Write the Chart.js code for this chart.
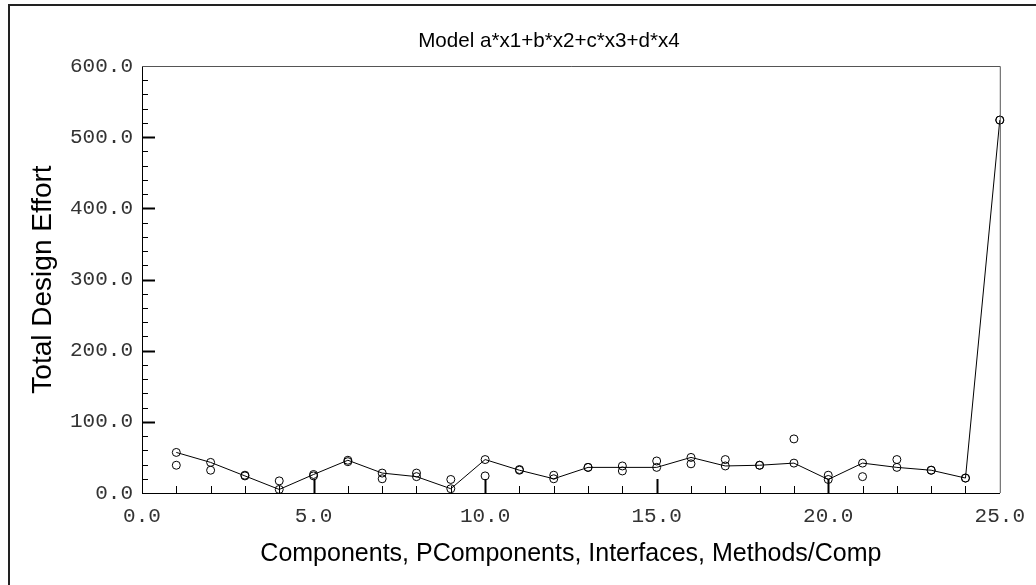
<!DOCTYPE html>
<html>
<head>
<meta charset="utf-8">
<script src="https://cdn.jsdelivr.net/npm/chart.js@4.4.1/dist/chart.umd.min.js"></script>
<style>
    html, body { margin: 0; padding: 0; background: #fff; }
    #grafico-esforco { display: block; }
</style>
</head>
<body>
<canvas id="grafico-esforco" width="1036" height="585"></canvas>
<script>
// Observações por projeto (eixo x) e esforço total de projeto
const componentes = [1, 2, 3, 4, 5, 6, 7, 8, 9, 10, 11, 12, 13, 14, 15, 16, 17, 18, 19, 20, 21, 22, 23, 24, 25];
const esforcoModelo = [57, 43, 24, 5, 26, 46, 28, 23, 6, 47, 32, 20, 36, 36, 36, 50, 38, 39, 42, 19, 42, 36, 32, 21, 524];
const esforcoPontosA = [57, 43, 24, 5, 26, 46, 28, 23, 6, 47, 32, 20, 36, 38, 36, 50, 38, 39, 42, 19, 42, 36, 32, 21, 524];
const esforcoPontosB = [39, 32, 25, 17, 24, 44, 20, 28, 19, 24, 33, 25, 36, 31, 45, 41, 47, 39, 76, 25, 23, 47, 32, 21, 524];
const marcasX = [0, 5, 10, 15, 20, 25];
const marcasY = [0, 100, 200, 300, 400, 500, 600];

const TITULO = 'Model a*x1+b*x2+c*x3+d*x4';
const fonteTicks = { family: "'Liberation Mono', 'Courier New', monospace", size: 21 };

function montarPontos(valores) {
    return componentes.map((x, i) => ({ x, y: valores[i] }));
}

function conjuntoPontos(valores) {
    return {
        type: 'scatter',
        data: montarPontos(valores),
        showLine: false,
        pointRadius: 4,
        pointHoverRadius: 4,
        pointBorderWidth: 1,
        pointBorderColor: '#000',
        pointBackgroundColor: 'rgba(255,255,255,0)',
        clip: false
    };
}

// marcas internas dos eixos, moldura do gráfico e título
const molduraEMarcas = {
    id: 'molduraEMarcas',
    afterDraw(chart) {
        const { ctx, chartArea: area, scales } = chart;
        ctx.save();

        ctx.strokeStyle = '#555';
        ctx.lineWidth = 1;
        ctx.beginPath();
        ctx.moveTo(area.left, area.top + 0.5);
        ctx.lineTo(area.right + 0.5, area.top + 0.5);
        ctx.lineTo(area.right + 0.5, area.bottom);
        ctx.stroke();

        ctx.strokeStyle = '#000';
        for (let v = 20; v < 600; v += 20) {
            const y = Math.round(scales.y.getPixelForValue(v)) + 0.5;
            const maior = v % 100 === 0;
            ctx.lineWidth = maior ? 2 : 1;
            ctx.beginPath();
            ctx.moveTo(area.left, y);
            ctx.lineTo(area.left + (maior ? 13 : 6), y);
            ctx.stroke();
        }
        for (let v = 1; v < 25; v++) {
            const x = Math.round(scales.x.getPixelForValue(v)) + 0.5;
            const maior = v % 5 === 0;
            ctx.lineWidth = maior ? 2 : 1;
            ctx.beginPath();
            ctx.moveTo(x, area.bottom);
            ctx.lineTo(x, area.bottom - (maior ? 14 : 7));
            ctx.stroke();
        }

        ctx.strokeStyle = '#222';
        ctx.lineWidth = 2;
        ctx.beginPath();
        ctx.moveTo(9, chart.height);
        ctx.lineTo(9, 5);
        ctx.lineTo(chart.width, 5);
        ctx.stroke();

        ctx.fillStyle = '#000';
        ctx.font = "20.6px 'Liberation Sans', Arial, sans-serif";
        ctx.textAlign = 'center';
        ctx.textBaseline = 'alphabetic';
        ctx.fillText(TITULO, 549, 47);
        ctx.restore();
    }
};

new Chart(document.getElementById('grafico-esforco'), {
    data: {
        datasets: [
            {
                type: 'line',
                data: montarPontos(esforcoModelo),
                borderColor: '#000',
                borderWidth: 1,
                pointRadius: 0,
                tension: 0,
                fill: false,
                clip: false
            },
            conjuntoPontos(esforcoPontosA),
            conjuntoPontos(esforcoPontosB)
        ]
    },
    options: {
        responsive: false,
        animation: false,
        devicePixelRatio: 1,
        layout: { padding: { top: 66, right: 29, left: 0, bottom: 0 } },
        plugins: {
            legend: { display: false },
            tooltip: { enabled: false }
        },
        scales: {
            x: {
                type: 'linear',
                position: 'bottom',
                min: 0,
                max: 25,
                afterBuildTicks: escala => { escala.ticks = marcasX.map(v => ({ value: v })); },
                afterFit: escala => { escala.height = 92; },
                grid: { display: false, drawTicks: false },
                border: { display: true, color: '#000', width: 1 },
                ticks: {
                    font: fonteTicks,
                    color: '#333',
                    padding: 11,
                    maxRotation: 0,
                    autoSkip: false,
                    callback: valor => valor.toFixed(1)
                },
                title: {
                    display: true,
                    text: 'Components, PComponents, Interfaces, Methods/Comp',
                    color: '#000',
                    font: { family: "'Liberation Sans', Arial, sans-serif", size: 25 },
                    padding: { top: 0, bottom: 16 }
                }
            },
            y: {
                type: 'linear',
                min: 0,
                max: 600,
                afterBuildTicks: escala => { escala.ticks = marcasY.map(v => ({ value: v })); },
                afterFit: escala => { escala.width = 142; },
                grid: { display: false, drawTicks: false },
                border: { display: true, color: '#000', width: 1 },
                ticks: {
                    font: fonteTicks,
                    color: '#333',
                    padding: 9,
                    autoSkip: false,
                    callback: valor => valor.toFixed(1)
                },
                title: {
                    display: true,
                    text: 'Total Design Effort',
                    color: '#000',
                    font: { family: "'Liberation Sans', Arial, sans-serif", size: 28 },
                    padding: { top: 26, bottom: 0 }
                }
            }
        }
    },
    plugins: [molduraEMarcas]
});
</script>
</body>
</html>
